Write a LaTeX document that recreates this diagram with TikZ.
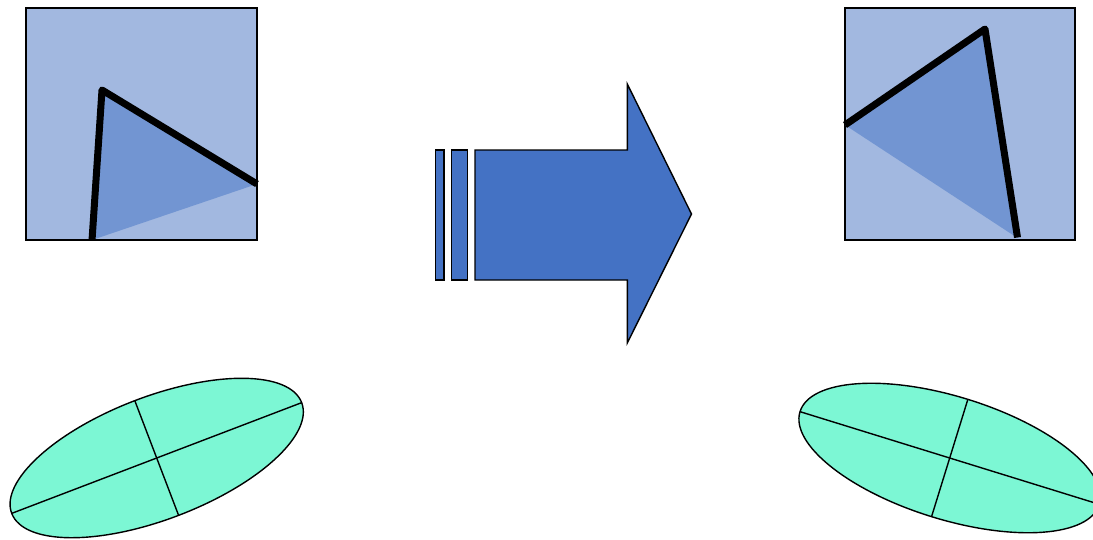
\documentclass[tikz,border=0pt]{standalone}
\definecolor{sqfill}{RGB}{162,184,224}
\definecolor{trifill}{RGB}{114,149,210}
\definecolor{arrowblue}{RGB}{68,114,196}
\definecolor{mint}{RGB}{124,247,212}
\begin{document}
\begin{tikzpicture}[x=1pt,y=-1pt,
  square/.style={draw=black,line width=1.4pt,fill=sqfill},
  wedge/.style={fill=trifill},
  stroke/.style={draw=black,line width=7pt,line join=round},
  arrowpart/.style={draw=black,line width=1.4pt,fill=arrowblue,line join=miter},
  disc/.style={draw=black,line width=1.4pt,fill=mint},
  axisline/.style={draw=black,line width=1.4pt}]
\useasboundingbox (0,0) rectangle (1093,539);
\clip (0,0) rectangle (1093,539);
% left square
\draw[square] (26,8) rectangle (257,240);
\fill[wedge] (92,240) -- (102,90) -- (257,184) -- cycle;
\draw[stroke] (92,240.5) -- (102,90) -- (257,184);
% right square
\draw[square] (845,8) rectangle (1075,240);
\fill[wedge] (845,125) -- (985,29) -- (1016,237) -- cycle;
\draw[stroke] (845,125) -- (985,29) -- (1017.5,237.5);
% arrow
\draw[arrowpart] (435.7,150) rectangle (444,280);
\draw[arrowpart] (451.7,150) rectangle (467.7,280);
\draw[arrowpart] (475,150) -- (627.3,150) -- (627.3,84) -- (691.5,214) -- (627.3,343) -- (627.3,280) -- (475,280) -- cycle;
% left ellipse
\begin{scope}[shift={(156.7,458)},rotate=20.9]
\draw[disc] (0,0) ellipse [x radius=155.2,y radius=61.4];
\draw[axisline] (-155.2,0) -- (155.2,0);
\draw[axisline] (0,-61.4) -- (0,61.4);
\end{scope}
% right ellipse
\begin{scope}[shift={(949.7,458)},rotate=-17.2]
\draw[disc] (0,0) ellipse [x radius=156.7,y radius=61.4];
\draw[axisline] (-156.7,0) -- (156.7,0);
\draw[axisline] (0,-61.4) -- (0,61.4);
\end{scope}
\end{tikzpicture}
\end{document}
